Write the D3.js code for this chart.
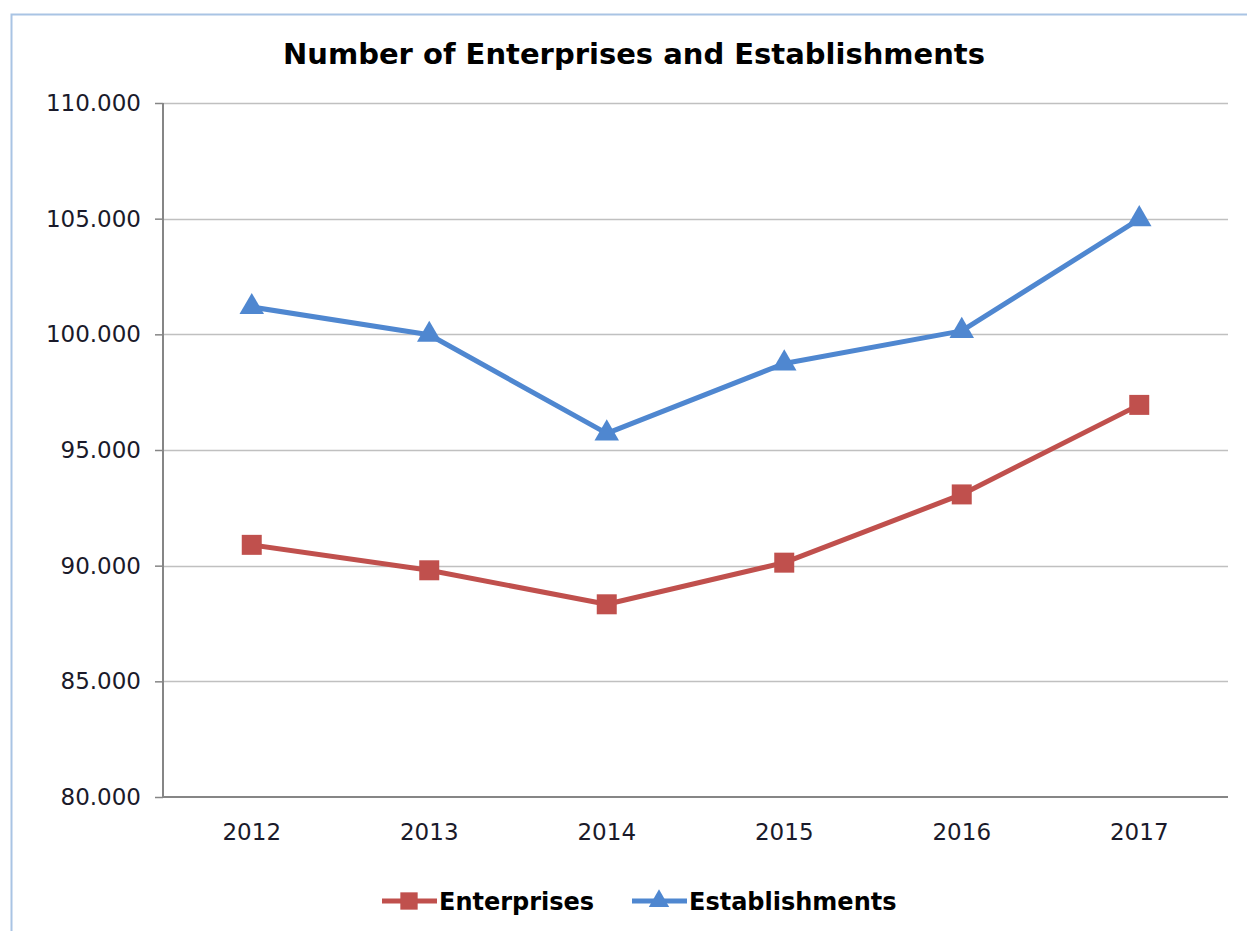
<!DOCTYPE html>
<html>
<head>
<meta charset="utf-8">
<script src="https://cdn.jsdelivr.net/npm/d3@7"></script>
<style>
    body { margin: 0; background: #fff; }
    text { font-family: "DejaVu Sans", Verdana, sans-serif; }
</style>
</head>
<body>
<div id="the_chart"></div>
<script>
var years = ["2012", "2013", "2014", "2015", "2016", "2017"];
var enterprises = [90900, 89800, 88330, 90130, 93080, 96950];
var establishments = [101180, 99980, 95720, 98740, 100150, 104980];
var yTicks = [80000, 85000, 90000, 95000, 100000, 105000, 110000];

gen_vis();

function gen_vis() {
    var w = 1247;
    var h = 931;

    var svg = d3.select("#the_chart")
        .append("svg")
        .attr("width", w)
        .attr("height", h);

    // outer chart border
    svg.append("rect")
        .attr("x", 11.5).attr("y", 14.5)
        .attr("width", w).attr("height", h)
        .attr("fill", "none")
        .attr("stroke", "#a9c4e4")
        .attr("stroke-width", 2);

    var pLeft = 163, pRight = 1228, pTop = 103, pBottom = 797;

    var xscale = d3.scaleBand()
        .domain(years)
        .range([pLeft, pRight]);

    var yscale = d3.scaleLinear()
        .domain([80000, 110000])
        .range([pBottom, pTop]);

    var fmt = function (d) { return d3.format(",")(d).replace(/,/g, "."); };

    // gridlines
    svg.append("g")
        .selectAll("line")
        .data(yTicks.slice(1))
        .enter().append("line")
        .attr("x1", pLeft).attr("x2", pRight)
        .attr("y1", function (d) { return Math.round(yscale(d)) + 0.5; })
        .attr("y2", function (d) { return Math.round(yscale(d)) + 0.5; })
        .attr("stroke", "#c0c0c0")
        .attr("stroke-width", 1.5);

    // y axis
    var yaxis = d3.axisLeft(yscale)
        .tickValues(yTicks)
        .tickSize(8)
        .tickPadding(14)
        .tickFormat(fmt);

    var gy = svg.append("g")
        .attr("transform", "translate(" + pLeft + ",0)")
        .call(yaxis);
    gy.select(".domain").attr("stroke", "#868686").attr("stroke-width", 2).attr("d", "M0," + pTop + "V" + pBottom);
    gy.selectAll(".tick line").attr("stroke", "#868686").attr("stroke-width", 1.5);
    gy.selectAll("text").attr("font-size", "23px").attr("fill", "#1a1a2a");

    // x axis
    var xaxis = d3.axisBottom(xscale)
        .tickSize(0)
        .tickPadding(27);
    var gx = svg.append("g")
        .attr("transform", "translate(0," + pBottom + ")")
        .call(xaxis);
    gx.select(".domain").attr("stroke", "#868686").attr("stroke-width", 2).attr("d", "M" + pLeft + ",0H" + pRight);
    gx.selectAll("text").attr("font-size", "23px").attr("fill", "#1a1a2a");

    // title
    svg.append("text")
        .attr("x", 634).attr("y", 64)
        .attr("text-anchor", "middle")
        .attr("font-size", "29px")
        .attr("font-weight", "bold")
        .attr("fill", "#000")
        .text("Number of Enterprises and Establishments");

    var cx = function (d, i) { return xscale(years[i]) + xscale.bandwidth() / 2; };

    var line = d3.line()
        .x(function (d, i) { return cx(d, i); })
        .y(function (d) { return yscale(d); });

    var series = [
        { name: "Enterprises", values: enterprises, color: "#c0504d", shape: d3.symbolSquare, size: 400 },
        { name: "Establishments", values: establishments, color: "#4f87d0", shape: d3.symbolTriangle, size: 260 }
    ];

    series.forEach(function (s) {
        svg.append("path")
            .datum(s.values)
            .attr("d", line)
            .attr("fill", "none")
            .attr("stroke", s.color)
            .attr("stroke-width", 5)
            .attr("stroke-linejoin", "round");

        svg.selectAll(".m-" + s.name)
            .data(s.values)
            .enter().append("path")
            .attr("transform", function (d, i) { return "translate(" + cx(d, i) + "," + yscale(d) + ")"; })
            .attr("d", d3.symbol().type(s.shape).size(s.size))
            .attr("fill", s.color);
    });

    // legend
    var legendX = [382, 632];
    series.forEach(function (s, i) {
        var g = svg.append("g").attr("transform", "translate(" + legendX[i] + ",901)");
        g.append("line")
            .attr("x1", 0).attr("x2", 55)
            .attr("stroke", s.color).attr("stroke-width", 5);
        g.append("path")
            .attr("transform", "translate(27,0)")
            .attr("d", d3.symbol().type(s.shape).size(s.name == "Enterprises" ? 300 : 180))
            .attr("fill", s.color);
        g.append("text")
            .attr("x", 57).attr("y", 9)
            .attr("font-size", "24px")
            .attr("font-weight", "bold")
            .attr("fill", "#000")
            .text(s.name);
    });
}
</script>
</body>
</html>
